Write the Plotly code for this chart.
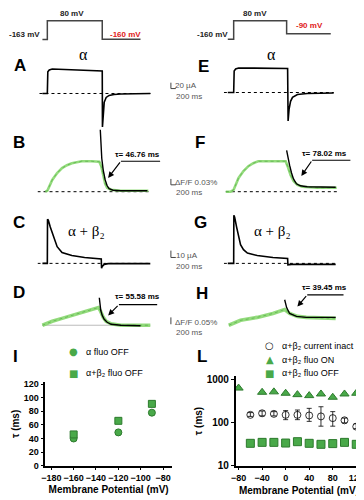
import plotly.graph_objects as go

W, H = 364, 500

# ---------------- data ----------------
# voltage protocols (time ms, voltage mV)
protoL_t = [50, 100, 100, 660, 660, 1050]
protoL_v = [-163, -163, 80, 80, -160, -160]
protoR_t = [40, 100, 100, 640, 640, 1090]
protoR_v = [-160, -160, 80, 80, -90, -90]

# A: alpha current (uA)
A_t = [50, 100, 105, 120, 150, 350, 660, 662, 670, 680, 700, 730, 780, 850, 1150]
A_i = [0, 0, 44, 48, 50, 48, 46, -68, -40, -18, -8, -4, -2, -1, 0]
# E: alpha current (uA)
E_t = [40, 100, 105, 120, 150, 350, 650, 655, 665, 680, 700, 750, 850, 1120]
E_i = [0, 0, 44, 48, 50, 50, 49, -58, -34, -18, -10, -4, -2, -1]

# B: alpha fluorescence dF/F (%) and fit
B_t = [80, 100, 150, 200, 250, 300, 350, 400, 450, 550, 630, 650, 670, 690, 710, 750, 850, 1130]
B_f = [0, 0.001, 0.012, 0.019, 0.024, 0.027, 0.029, 0.030, 0.031, 0.031, 0.0305, 0.026, 0.016, 0.008, 0.004, 0.002, 0.001, 0.001]
Bfit_t = [640, 645, 655, 670, 690, 710, 730, 770, 850, 1120]
Bfit_f = [0.063, 0.049, 0.034, 0.022, 0.012, 0.006, 0.003, 0.0015, 0.001, 0.001]

# F
F_t = [20, 70, 100, 150, 200, 250, 300, 350, 450, 550, 630, 650, 680, 710, 750, 800, 950, 1150]
F_f = [0, 0, 0.002, 0.014, 0.021, 0.026, 0.029, 0.031, 0.031, 0.031, 0.031, 0.026, 0.017, 0.011, 0.007, 0.005, 0.004, 0.004]
Ffit_t = [640, 650, 670, 690, 710, 740, 780, 850, 1140]
Ffit_f = [0.042, 0.036, 0.027, 0.019, 0.013, 0.008, 0.006, 0.005, 0.0045]

# C: alpha+beta2 current (uA)
C_t = [50, 100, 102, 110, 130, 150, 170, 200, 250, 350, 480, 650, 653, 660, 680, 720, 1150]
C_i = [0, 0, 45, 44, 37, 31, 24, 17, 11, 8, 6, 4.5, -5, -3, -1, -0.3, -0.3]
# G
G_t = [40, 100, 102, 110, 130, 150, 170, 200, 240, 340, 500, 650, 653, 690, 1140]
G_i = [0, 0, 49, 47, 37, 27, 19, 14, 10.5, 8, 6, 5, -1.5, -1, -1]

# D: alpha+beta2 fluorescence
D_t = [50, 150, 250, 350, 450, 550, 620, 640, 670, 700, 750, 850, 1150]
D_f = [0, 0.008, 0.014, 0.020, 0.026, 0.032, 0.036, 0.030, 0.016, 0.008, 0.003, 0, 0]
Dfit_t = [630, 635, 645, 660, 680, 710, 750, 850, 1050]
Dfit_f = [0.056, 0.044, 0.030, 0.020, 0.012, 0.006, 0.002, 0, -0.001]
# H
H_t = [50, 170, 340, 500, 620, 670, 750, 840, 1140]
H_f = [0, 0.010, 0.016, 0.024, 0.032, 0.024, 0.018, 0.016, 0.014]
Hfit_t = [620, 640, 670, 740, 840, 1140]
Hfit_f = [0.052, 0.036, 0.024, 0.018, 0.016, 0.016]

# baselines (time spans)
base_A_t = [20, 1170]
base_E_t = [0, 1120]
base_B_t = [0, 1150]
base_F_t = [20, 1170]
base_C_t = [0, 1150]
base_G_t = [0, 1140]
base_D_t = [50, 1150]
zero2 = [0, 0]

# fitted time constants
tau_labels = ["τ= 46.76 ms", "τ= 78.02 ms", "τ= 55.58 ms", "τ= 39.45 ms"]

# panel I
I_x = [-160, -120, -90]
I_alpha_off = [40, 49, 78]
I_ab_off = [46, 66, 91]
I_xticks = [-180, -160, -140, -120, -100, -80]
I_yticks = [0, 20, 40, 60, 80, 100, 120]
I_names = ["α fluo OFF", "α+β₂ fluo OFF"]

# panel L
L_x_on = [-80, -40, -20, 0, 20, 40, 60, 80, 100, 120]
L_on = [625, 499, 510, 474, 440, 418, 456, 383, 456, 474]
L_x = [-60, -40, -20, 0, 20, 40, 60, 80, 100, 120]
L_inact = [150, 163, 158, 150, 150, 145, 138, 126, 112, 80]
L_inact_plus = [19, 21, 20, 38, 44, 67, 93, 52, 14, 13]
L_inact_minus = [12, 21, 16, 34, 34, 39, 56, 44, 14, 8]
L_off = [32.9, 34.6, 34.6, 33.4, 35.9, 32.9, 31.2, 32.4, 34.6, 31.2]
L_xticks = [-80, -40, 0, 40, 80, 120]
L_yticks = [10, 100, 1000]
L_names = ["α+β₂ current inact", "α+β₂ fluo ON", "α+β₂ fluo OFF"]

# ---------------- helpers ----------------
FONT = "Liberation Sans, Arial, sans-serif"
SERIF = "Liberation Serif, Times New Roman, serif"
GREEN_TR = "rgba(135,215,110,0.9)"
GREEN_M = "#49a949"
GREEN_L = "#2d7a2d"


def PX(x):
    return x / W


def PY(y):
    return 1 - y / H


fig = go.Figure()
layout = {}


def axes(i, xbox, ybox, xr, yr, visible=False, **kw):
    sx = "" if i == 1 else str(i)
    layout["xaxis" + sx] = dict(domain=[PX(xbox[0]), PX(xbox[1])], range=xr,
                                anchor="y" + sx, visible=visible, fixedrange=True,
                                **kw.get("x", {}))
    layout["yaxis" + sx] = dict(domain=[PY(ybox[1]), PY(ybox[0])], range=yr,
                                anchor="x" + sx, visible=visible, fixedrange=True,
                                **kw.get("y", {}))
    return "x" + sx, "y" + sx


def line(ax, x, y, color="black", width=1.6, dash=None):
    fig.add_trace(go.Scatter(x=x, y=y, xaxis=ax[0], yaxis=ax[1], mode="lines",
                             line=dict(color=color, width=width, dash=dash),
                             showlegend=False, hoverinfo="skip"))


TL = [0, 1200]
# protocols
axP1 = axes(1, (25, 145), (0, 38), TL, [-278.4, 208])
axP2 = axes(2, (215, 335), (0, 38), TL, [-278.4, 208])
line(axP1, protoL_t, protoL_v, "#444", 1.5)
line(axP2, protoR_t, protoR_v, "#444", 1.5)

axA = axes(3, (25, 145), (38, 120), TL, [-72, 92])
axE = axes(4, (215, 335), (38, 120), TL, [-74, 90])
axB = axes(5, (25, 145), (120, 195), TL, [-0.011, 0.064])
axF = axes(6, (215, 335), (120, 195), TL, [-0.011, 0.064])
axC = axes(7, (25, 145), (198, 268), TL, [-11, 59])
axG = axes(8, (215, 335), (198, 268), TL, [-11, 59])
axD = axes(9, (25, 145), (270, 335), TL, [-0.03, 0.1])
axH = axes(10, (215, 335), (270, 335), TL, [-0.03, 0.1])

# baselines
line(axA, base_A_t, zero2, "black", 1, "dot")
line(axE, base_E_t, zero2, "black", 1, "dot")
line(axB, base_B_t, zero2, "black", 1, "dot")
line(axF, base_F_t, zero2, "black", 1, "dot")
line(axC, base_C_t, zero2, "black", 1, "dot")
line(axG, base_G_t, zero2, "black", 1, "dot")
line(axD, base_D_t, zero2, "#aaa", 0.8)

# currents
line(axA, A_t, A_i)
line(axE, E_t, E_i)
line(axC, C_t, C_i)
line(axG, G_t, G_i)
# fluorescence
line(axB, B_t, B_f, GREEN_TR, 2.6)
line(axF, F_t, F_f, GREEN_TR, 2.6)
line(axD, D_t, D_f, GREEN_TR, 3.6)
line(axH, H_t, H_f, GREEN_TR, 3.6)
line(axB, B_t, B_f, "rgba(60,150,50,0.6)", 0.8, "dot")
line(axF, F_t, F_f, "rgba(60,150,50,0.6)", 0.8, "dot")
line(axD, D_t, D_f, "rgba(60,150,50,0.6)", 0.8, "dot")
line(axH, H_t, H_f, "rgba(60,150,50,0.6)", 0.8, "dot")
line(axB, Bfit_t, Bfit_f, "black", 1.4)
line(axF, Ffit_t, Ffit_f, "black", 1.4)
line(axD, Dfit_t, Dfit_f, "black", 1.4)
line(axH, Hfit_t, Hfit_f, "black", 1.4)

# ---------- panel I ----------
tickf = dict(family=FONT, size=9, color="black", weight="bold")
titlef = dict(family=FONT, size=10, color="black", weight="bold")
axI = axes(11, (33, 162), (378, 463), [-185.3, -72.1], [0, 122.9], visible=True,
           x=dict(tickvals=I_xticks, showline=True, linecolor="black", linewidth=1.5,
                  ticks="outside", ticklen=3, tickcolor="black", tickfont=tickf,
                  showgrid=False, zeroline=False,
                  title=dict(text="Membrane Potential (mV)", font=titlef, standoff=4)),
           y=dict(tickvals=I_yticks, showline=True, linecolor="black", linewidth=1.5,
                  ticks="outside", ticklen=3, tickcolor="black", tickfont=tickf,
                  showgrid=False, zeroline=False,
                  title=dict(text="τ (ms)", font=titlef, standoff=2)))
fig.add_trace(go.Scatter(x=I_x, y=I_alpha_off, xaxis=axI[0], yaxis=axI[1], mode="markers",
                         name=I_names[0], showlegend=False,
                         marker=dict(symbol="circle", size=7, color=GREEN_M,
                                     line=dict(color=GREEN_L, width=1))))
fig.add_trace(go.Scatter(x=I_x, y=I_ab_off, xaxis=axI[0], yaxis=axI[1], mode="markers",
                         name=I_names[1], showlegend=False,
                         marker=dict(symbol="square", size=7, color=GREEN_M,
                                     line=dict(color=GREEN_L, width=1))))

# ---------- panel L ----------
axL = axes(12, (227, 356), (372, 463), [-85, 130], [1, 3.068], visible=True,
           x=dict(tickvals=L_xticks, showline=True, linecolor="black", linewidth=1.5,
                  ticks="outside", ticklen=3, tickcolor="black",
                  tickfont=dict(family=FONT, size=9, color="black", weight="bold"),
                  showgrid=False, zeroline=False,
                  title=dict(text="Membrane Potential (mV)", font=titlef, standoff=5)),
           y=dict(type="log", tickvals=L_yticks, ticktext=["10", "100", "1000"],
                  showline=True, linecolor="black", linewidth=1.5,
                  ticks="outside", ticklen=3, tickcolor="black",
                  tickfont=dict(family=FONT, size=10, color="black", weight="bold"),
                  showgrid=False, zeroline=False,
                  title=dict(text="τ (ms)", font=titlef, standoff=2)))
fig.add_trace(go.Scatter(x=L_x, y=L_inact, xaxis=axL[0], yaxis=axL[1], mode="markers",
                         name=L_names[0], showlegend=False,
                         error_y=dict(type="data", array=L_inact_plus, arrayminus=L_inact_minus,
                                      color="black", thickness=0.8, width=2.5),
                         marker=dict(symbol="circle-open", size=7, color="black",
                                     line=dict(color="black", width=0.8))))
fig.add_trace(go.Scatter(x=L_x_on, y=L_on, xaxis=axL[0], yaxis=axL[1], mode="markers",
                         name=L_names[1], showlegend=False,
                         marker=dict(symbol="triangle-up", size=8, color=GREEN_M,
                                     line=dict(color=GREEN_L, width=1))))
fig.add_trace(go.Scatter(x=L_x, y=L_off, xaxis=axL[0], yaxis=axL[1], mode="markers",
                         name=L_names[2], showlegend=False,
                         marker=dict(symbol="square", size=8, color=GREEN_M,
                                     line=dict(color=GREEN_L, width=1))))

# ---------- annotations ----------
ann = []


def text(x, y, s, size=9, color="black", bold=False, xanchor="center", family=FONT, **kw):
    ann.append(dict(x=PX(x), y=PY(y), xref="paper", yref="paper", text=s, showarrow=False,
                    xanchor=xanchor, yanchor="middle",
                    font=dict(family=family, size=size, color=color,
                              weight="bold" if bold else "normal"), **kw))


RED = "#e02020"
# protocol labels
text(30, 24, "-163 mV", 8, "#222", True, "right")
text(60, 3, "80 mV", 8, "#222", True)
text(97, 24, "-160 mV", 8, RED, True, "left")
text(221, 24, "-160 mV", 8, "#222", True, "right")
text(247, 3, "80 mV", 8, "#222", True)
text(287, 15, "-90 mV", 8, RED, True, "left")

# panel letters
for (lx, ly, s) in [(7, 56, "A"), (6, 134, "B"), (6, 215, "C"), (6, 287, "D"),
                    (194, 57, "E"), (191, 134, "F"), (191, 215, "G"), (193, 288, "H"),
                    (3, 352, "I"), (193, 352, "L")]:
    text(lx, ly, s, 17, "black", True)

# subunit labels
text(72, 44, "α", 16, family=SERIF)
text(264, 44, "α", 16, family=SERIF)
text(75, 224, "α + β₂", 15, family=SERIF)
text(265, 224, "α + β₂", 15, family=SERIF)

# scale bar labels
G2 = "#555"
text(163, 76, "20 µA", 8, G2, xanchor="left")
text(164, 87, "200 ms", 8, G2, xanchor="left")
text(163, 175, "ΔF/F 0.03%", 8, G2, xanchor="left")
text(164, 185, "200 ms", 8, G2, xanchor="left")
text(164, 249, "10 µA", 8, G2, xanchor="left")
text(164, 260, "200 ms", 8, G2, xanchor="left")
text(163, 317, "ΔF/F 0.05%", 8, G2, xanchor="left")
text(164, 327, "200 ms", 8, G2, xanchor="left")

# legends (key glyph + label)
SYM = "DejaVu Sans, sans-serif"
for (y, g, c, s) in [(347, "●", GREEN_M, I_names[0]), (369, "■", GREEN_M, I_names[1])]:
    text(62, y, g, 10, c, family=SYM)
    text(72, y, s, 9, xanchor="left")
for (y, g, c, s) in [(341, "○", "#111", L_names[0]), (355, "▲", GREEN_M, L_names[1]),
                     (369, "■", GREEN_M, L_names[2])]:
    text(262, y, g, 10, c, family=SYM)
    text(272, y, s, 9, xanchor="left")

# tau labels + arrows
tau_pos = [(127, 146, 110, 150, 153, 97, 170),
           (318, 145, 305, 344, 152, 294, 168),
           (127, 291, 108, 147, 299, 97, 310),
           (318, 282, 300, 337, 289, 290, 301)]
shapes = []
for s, (tx, ty, lx0, lx1, ly, hx, hy) in zip(tau_labels, tau_pos):
    text(tx, ty, s, 8, "black", True)
    shapes.append(dict(type="line", xref="paper", yref="paper", x0=PX(lx0), x1=PX(lx1),
                       y0=PY(ly), y1=PY(ly), line=dict(color="black", width=1.2)))
    ann.append(dict(x=PX(hx), y=PY(hy), xref="paper", yref="paper", ax=lx0 - hx, ay=ly - hy,
                    showarrow=True, arrowhead=2, arrowsize=1, arrowwidth=1.2,
                    arrowcolor="black", text=""))

# scale bars (decorative)
for (x0, ya, yb) in [(161, 73, 79), (161, 171, 177), (161, 244, 251), (161, 312, 319)]:
    shapes.append(dict(type="line", xref="paper", yref="paper", x0=PX(x0), x1=PX(x0),
                       y0=PY(ya), y1=PY(yb), line=dict(color="#444", width=1)))
for (x0, yb) in [(161, 79), (161, 177), (161, 251)]:
    shapes.append(dict(type="line", xref="paper", yref="paper", x0=PX(x0), x1=PX(x0 + 5),
                       y0=PY(yb), y1=PY(yb), line=dict(color="#444", width=1)))

layout.update(
    width=W, height=H, autosize=False,
    margin=dict(l=0, r=0, t=0, b=0),
    paper_bgcolor="white", plot_bgcolor="rgba(0,0,0,0)",
    showlegend=False,
    annotations=ann, shapes=shapes,
)
fig.update_layout(**layout)
fig.write_html("out.html")
